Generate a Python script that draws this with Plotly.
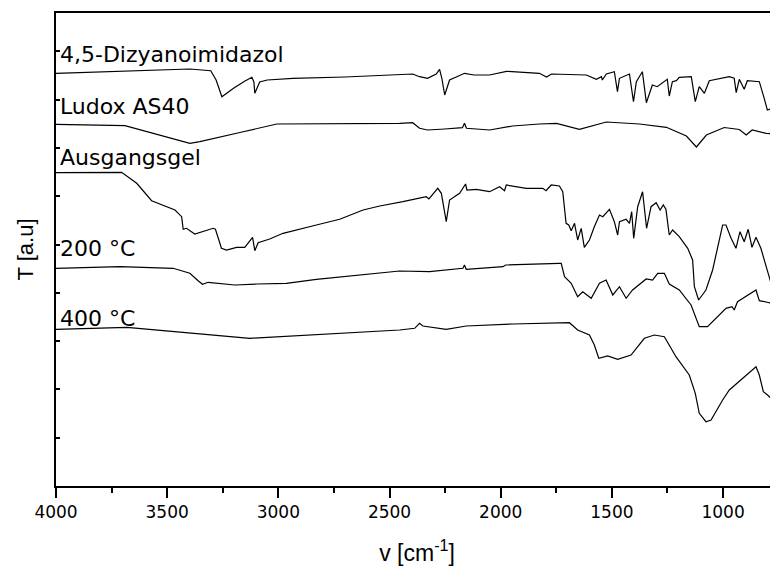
import plotly.graph_objects as go

# IR-Spektren, Wellenzahl in cm^-1, Transmission in willkuerlichen Einheiten (versetzt)
wn_dizyano = [4000, 3700, 3398, 3304, 3280, 3254, 3200, 3150, 3119, 3110,
              3106, 3084, 3050, 2935, 2700, 2396, 2365, 2329, 2290, 2275,
              2265, 2252, 2230, 2200, 2163, 2120, 2050, 1974, 1900, 1826,
              1794, 1772, 1615, 1570, 1547, 1543, 1525, 1489, 1475, 1466,
              1421, 1403, 1390, 1363, 1345, 1318, 1296, 1251, 1242, 1228,
              1210, 1197, 1143, 1125, 1107, 1084, 1062, 972, 950, 941,
              927, 905, 891, 837, 815, 801, 779, 757, 750]
t_dizyano = [412.7, 415, 417, 415.3, 406, 389.3, 398, 405, 408.7, 404,
             392.7, 404, 406, 407.7, 409, 412, 409.3, 407.7, 412, 416.7,
             408, 391, 406, 409, 412.7, 411, 411, 414.7, 413.5, 412.7,
             409, 412, 411, 406.7, 409.3, 406, 412, 414.3, 394.3, 407.7,
             412, 384.3, 404.3, 414.3, 383.3, 401, 399.3, 406.7, 390, 404.3,
             405.3, 408.7, 409.3, 384.3, 399.3, 392.7, 405.3, 409.3, 407.7, 393.3,
             406.7, 396.7, 405.3, 404.3, 387.7, 376, 377.7, 387.7, 392]

wn_ludox = [4000, 3690, 3398, 3353, 3173, 3007, 2455, 2396, 2365, 2329,
            2252, 2172, 2163, 2154, 2050, 1947, 1826, 1749, 1646, 1525,
            1376, 1255, 1165, 1120, 1075, 995, 927, 896, 869, 806, 757]
t_ludox = [361.7, 360.3, 342.7, 344.3, 353.5, 362, 362.7, 363.3, 357.7, 356,
           357, 358.3, 362.7, 357.7, 356, 360, 362, 362.7, 356.7, 364,
           362, 358.7, 350, 339, 351, 358.5, 356.5, 351, 356, 352.7, 352]

wn_gel = [4000, 3705, 3637, 3570, 3465, 3435, 3428, 3413, 3376, 3293,
          3283, 3256, 3233, 3188, 3151, 3116, 3106, 3091, 3039, 2979,
          2829, 2724, 2619, 2544, 2440, 2335, 2323, 2283, 2267, 2245,
          2230, 2185, 2158, 2152, 2110, 2050, 2005, 1983, 1975, 1885,
          1811, 1796, 1773, 1736, 1721, 1706, 1694, 1683, 1668, 1654,
          1638, 1624, 1601, 1579, 1556, 1541, 1511, 1489, 1474, 1466,
          1436, 1421, 1411, 1402, 1384, 1362, 1344, 1324, 1301, 1283,
          1269, 1257, 1242, 1227, 1197, 1159, 1137, 1129, 1110, 1077,
          1047, 1002, 987, 964, 942, 924, 905, 887, 870, 852,
          830, 792, 785, 762, 757]
t_gel = [313.3, 313.7, 302.7, 285.3, 276, 269.3, 256.7, 257.7, 252, 257.7,
         256.7, 237.7, 236, 238.7, 238.7, 248.7, 235.3, 243.3, 247, 252.7,
         261, 266.7, 276, 280, 284.3, 289.3, 287, 297.7, 292.7, 264.3,
         286, 292.7, 302, 296, 296.7, 294.3, 299.3, 295.3, 301, 297.7,
         297.7, 295.3, 301, 300, 294.3, 262.7, 261, 255.3, 262.7, 246,
         257.7, 238.7, 246, 259.3, 271, 269.3, 276.7, 264.3, 251, 264.3,
         266.7, 262.7, 274.3, 247.7, 279.3, 294.3, 257.7, 279.3, 283.3, 276,
         281, 276.7, 251, 256, 249.3, 237.7, 226, 199.3, 186, 196,
         216, 261, 261, 247.7, 237.7, 254.3, 244.3, 256.7, 238.7, 248.7,
         237.7, 207.7, 203.3, 221, 222]

wn_200 = [4000, 3712, 3473, 3398, 3361, 3341, 3316, 3196, 3098, 2964,
          2829, 2544, 2455, 2320, 2170, 2163, 2155, 1990, 1978, 1736,
          1728, 1713, 1683, 1654, 1631, 1593, 1556, 1526, 1496, 1466,
          1436, 1407, 1346, 1317, 1294, 1264, 1242, 1197, 1144, 1107,
          1070, 987, 960, 950, 935, 852, 837, 792, 757]
t_200 = [217.7, 219.3, 217.7, 212.7, 205.3, 201.7, 203.7, 201, 202, 202.7,
         206.7, 213.3, 215, 214.3, 217.7, 221, 216.7, 219.3, 221, 222.7,
         222.7, 209.3, 202.7, 189.3, 194.3, 187.7, 202.7, 206, 191, 199.3,
         187.7, 196, 207, 206, 212.7, 212.7, 202, 196, 181, 159.3,
         159.3, 177.7, 179.3, 176, 184.3, 196, 185.3, 183.3, 179.3]

wn_400 = [4000, 3681, 3128, 2455, 2387, 2365, 2350, 2245, 2155, 1946,
          1691, 1654, 1601, 1579, 1559, 1519, 1474, 1414, 1354, 1309,
          1264, 1212, 1152, 1125, 1107, 1077, 1054, 1002, 972, 912,
          852, 837, 819, 800, 785, 770, 757]
t_400 = [156.7, 158.7, 147.7, 156, 157.7, 162.7, 160, 156.7, 160, 162,
         163.3, 156, 151, 141, 127.7, 130, 126.7, 131, 147.7, 151,
         149.3, 129.3, 111, 92.7, 72.7, 64.3, 66, 86, 96, 107.7,
         119.3, 111, 94.3, 91, 87.7, 94.3, 99.3]

labels = ['4,5-Dizyanoimidazol', 'Ludox AS40', 'Ausgangsgel', '200 °C', '400 °C']
label_y = [432, 380, 328.5, 238, 168]

spectra = [(wn_dizyano, t_dizyano), (wn_ludox, t_ludox), (wn_gel, t_gel),
           (wn_200, t_200), (wn_400, t_400)]

fig = go.Figure()
for (wn, t), name in zip(spectra, labels):
    fig.add_trace(go.Scatter(x=wn, y=t, mode='lines', name=name,
                             line=dict(color='black', width=1.2)))

for name, y in zip(labels, label_y):
    fig.add_annotation(x=3992, y=y, text=name, showarrow=False,
                       xanchor='left', yanchor='middle',
                       font=dict(family='DejaVu Sans', size=22, color='black'))

# die Seite hat 8px Rand, daher etwas kleiner als das Fenster
fig.update_layout(
    width=770, height=558,
    margin=dict(l=48, r=0, t=5, b=80),
    plot_bgcolor='white', paper_bgcolor='white',
    showlegend=False,
    xaxis=dict(range=[4000, 753], tickmode='linear', tick0=1000, dtick=500,
               ticks='outside', ticklen=10, tickwidth=1.5, tickcolor='black',
               minor=dict(dtick=250, ticks='outside', ticklen=5, tickwidth=1.5,
                          tickcolor='black', showgrid=False),
               showline=True, linewidth=2, linecolor='black', mirror=True,
               showgrid=False, zeroline=False,
               tickfont=dict(family='DejaVu Sans', size=17, color='black'),
               title=dict(text='v [cm<sup>-1</sup>]', standoff=28,
                          font=dict(family='Liberation Sans', size=23, color='black'))),
    yaxis=dict(range=[0, 473], tickmode='linear', tick0=0, dtick=48.3,
               ticks='inside', ticklen=4, tickwidth=1.5, tickcolor='black',
               showticklabels=False,
               showline=True, linewidth=2, linecolor='black',
               showgrid=False, zeroline=False,
               title=dict(text='T [a.u]', standoff=14,
                          font=dict(family='Liberation Sans', size=22, color='black'))),
)

fig.write_html('out.html')
